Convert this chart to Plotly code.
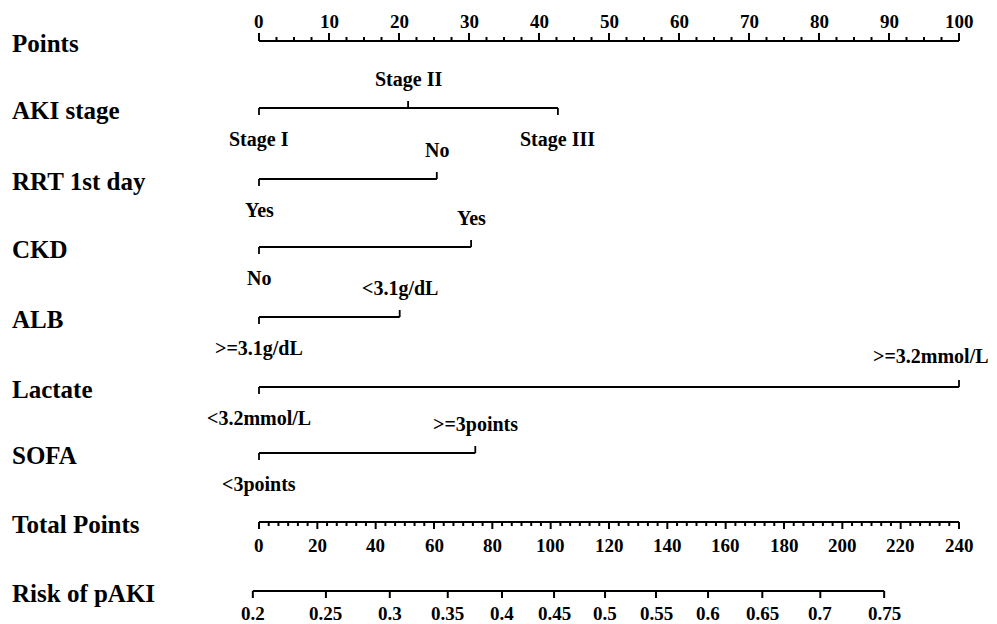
import numpy as np
import plotly.graph_objects as go

# ---------------- data ----------------
row_names = ["Points", "AKI stage", "RRT 1st day", "CKD", "ALB", "Lactate", "SOFA",
             "Total Points", "Risk of pAKI"]

var_names = ["AKI stage", "RRT 1st day", "CKD", "ALB", "Lactate", "SOFA"]
var_levels = [
    ["Stage I", "Stage II", "Stage III"],
    ["Yes", "No"],
    ["No", "Yes"],
    [">=3.1g/dL", "<3.1g/dL"],
    ["<3.2mmol/L", ">=3.2mmol/L"],
    ["<3points", ">=3points"],
]
var_points = [
    [0, 21.3, 42.7],
    [0, 25.4],
    [0, 30.3],
    [0, 20.1],
    [0, 100],
    [0, 30.9],
]

points_ticks = [0, 10, 20, 30, 40, 50, 60, 70, 80, 90, 100]
total_ticks = [0, 20, 40, 60, 80, 100, 120, 140, 160, 180, 200, 220, 240]
risk_ticks = [0.2, 0.25, 0.3, 0.35, 0.4, 0.45, 0.5, 0.55, 0.6, 0.65, 0.7, 0.75]
risk_labels = ["0.2", "0.25", "0.3", "0.35", "0.4", "0.45", "0.5", "0.55", "0.6",
               "0.65", "0.7", "0.75"]
lp_intercept = -1.362     # linear predictor at 0 total points
lp_slope = 0.01148        # per total point
total_max = 240

# ---------------- layout helpers ----------------
row_y = [41, 108, 179, 247, 317, 387, 453, 522, 591]
FONT = "Liberation Serif"
BLK = "black"
ROW_SIZE = 25
LEV_SIZE = 20
TICK_SIZE = 19

def tp_to_pts(tp):
    return np.asarray(tp, dtype=float) * 100.0 / total_max

def risk_to_pts(p):
    p = np.asarray(p, dtype=float)
    tp = (np.log(p / (1 - p)) - lp_intercept) / lp_slope
    return tp_to_pts(tp)

fig = go.Figure()
ann = []

def seg_trace(xs, ys, width):
    fig.add_trace(go.Scatter(x=xs, y=ys, mode="lines",
                             line=dict(color=BLK, width=width),
                             hoverinfo="skip", showlegend=False))

def label(x, y, text, size, xanchor="center", xshift=0):
    ann.append(dict(x=x, y=y, xref="x", yref="y", text="<b>" + text + "</b>",
                    showarrow=False, xanchor=xanchor, yanchor="middle",
                    xshift=xshift, font=dict(family=FONT, size=size, color=BLK)))

# row labels
for name, y in zip(row_names, row_y):
    ann.append(dict(x=0, y=y + 2, xref="paper", yref="y", text="<b>" + name + "</b>",
                    showarrow=False, xanchor="left", yanchor="middle", xshift=10,
                    font=dict(family=FONT, size=ROW_SIZE, color=BLK)))

# Points axis (ticks upward)
y0 = row_y[0]
xs, ys = [0, 100, None], [y0, y0, None]
minor = np.arange(0, 100.001, 2.5)
for m in minor:
    L = 8 if abs(m % 10) < 1e-9 else 4
    xs += [m, m, None]
    ys += [y0, y0 - L, None]
seg_trace(xs, ys, 2)
for t in points_ticks:
    label(t, y0 - 20, str(t), TICK_SIZE)

# variable rows
for vi, (name, levs, pts) in enumerate(zip(var_names, var_levels, var_points)):
    y = row_y[vi + 1]
    xs, ys = [min(pts), max(pts), None], [y, y, None]
    for li, (lv, p) in enumerate(zip(levs, pts)):
        up = (li % 2 == 1)
        xs += [p, p, None]
        ys += [y, y - 7 if up else y + 7, None]
        if up:
            if p >= 99:
                label(p, y - 31, lv, LEV_SIZE, xanchor="right", xshift=32)
            else:
                label(p, y - 29, lv, LEV_SIZE)
        else:
            label(p, y + 31, lv, LEV_SIZE)
    seg_trace(xs, ys, 1.8)

# Total points axis (ticks downward)
y7 = row_y[7]
xs, ys = [0, 100, None], [y7, y7, None]
minor_tp = np.arange(0, total_max + 0.001, 20 / 6)
for m in minor_tp:
    r = m / 20
    L = 7 if abs(r - round(r)) < 1e-6 else 4
    xs += [float(tp_to_pts(m)), float(tp_to_pts(m)), None]
    ys += [y7, y7 + L, None]
seg_trace(xs, ys, 2)
for t in total_ticks:
    label(float(tp_to_pts(t)), y7 + 23, str(t), TICK_SIZE)

# Risk axis
y8 = row_y[8]
rp = risk_to_pts(risk_ticks)
xs, ys = [float(rp[0]), float(rp[-1]), None], [y8, y8, None]
for v in rp:
    xs += [float(v), float(v), None]
    ys += [y8, y8 + 7, None]
seg_trace(xs, ys, 2)
for v, t in zip(rp, risk_labels):
    label(float(v), y8 + 22, t, TICK_SIZE)

# pixel-aligned ranges: 0 points at x=259, 100 points at x=959
px_per_pt = 7.0
x0 = -259 / px_per_pt
x1 = x0 + 997 / px_per_pt

fig.update_layout(
    width=997, height=624,
    margin=dict(l=0, r=0, t=0, b=0),
    paper_bgcolor="white", plot_bgcolor="white",
    xaxis=dict(range=[x0, x1], visible=False, fixedrange=True),
    yaxis=dict(range=[624, 0], visible=False, fixedrange=True),
    annotations=ann,
    showlegend=False,
)

fig.write_html("out.html")
